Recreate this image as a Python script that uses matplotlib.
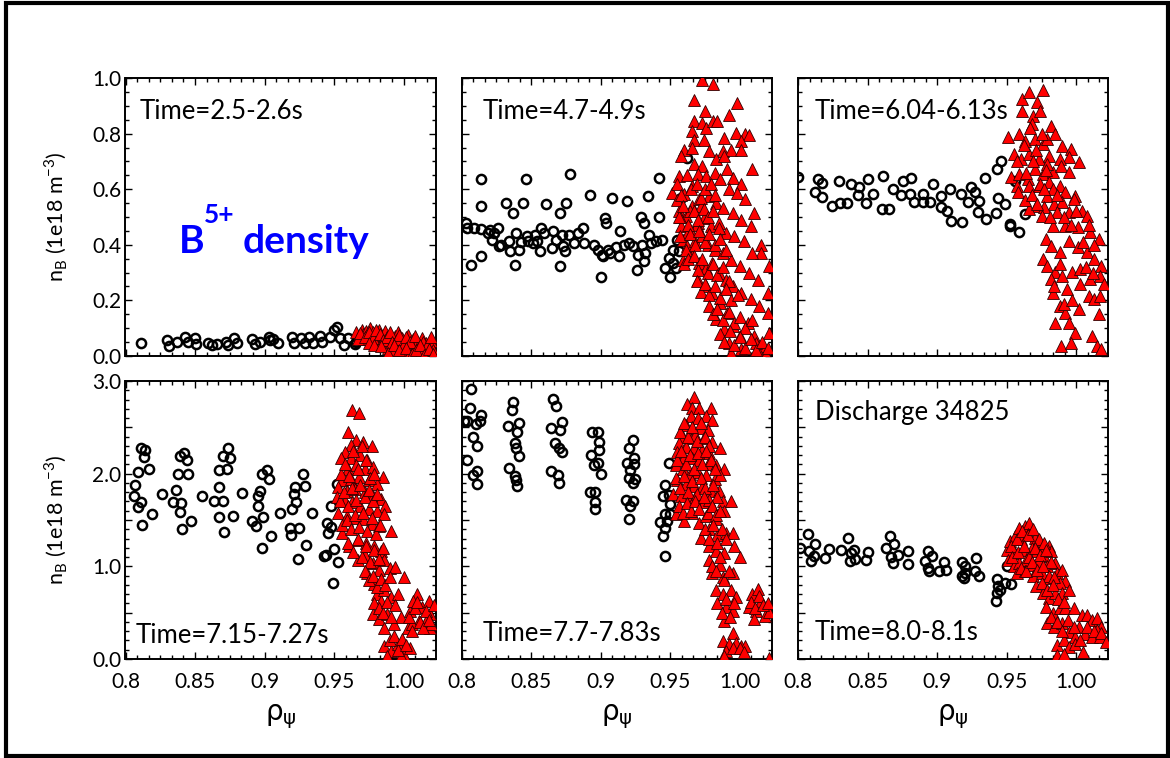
import matplotlib
matplotlib.use("Agg")
import matplotlib.pyplot as plt
from matplotlib.patches import Rectangle
from matplotlib.ticker import FixedLocator, AutoMinorLocator

plt.rcParams['font.family'] = ['Lato', 'DejaVu Sans']
plt.rcParams['mathtext.fontset'] = 'dejavusans'

# ---- data (x = rho_psi, y = n_B in 1e18 m^-3) ----
# panel 1: Time=2.5-2.6s
p1_circ_x = [0.811, 0.830, 0.831, 0.837, 0.843, 0.845, 0.850, 0.851, 0.859, 0.862, 0.866, 0.872,
             0.874, 0.878, 0.880, 0.891, 0.893, 0.897, 0.903, 0.904, 0.906, 0.910, 0.920, 0.921,
             0.926, 0.929, 0.932, 0.935, 0.940, 0.941, 0.947, 0.950, 0.952, 0.954, 0.957, 0.960,
             0.965, 0.966, 0.970]
p1_circ_y = [0.048, 0.058, 0.036, 0.052, 0.067, 0.052, 0.064, 0.043, 0.048, 0.040, 0.043, 0.052,
             0.040, 0.064, 0.046, 0.060, 0.043, 0.052, 0.070, 0.058, 0.060, 0.048, 0.070, 0.048,
             0.064, 0.048, 0.070, 0.048, 0.072, 0.052, 0.067, 0.094, 0.106, 0.064, 0.040, 0.064,
             0.043, 0.052, 0.067]
p1_tri_x = [0.966, 0.968, 0.970, 0.971, 0.973, 0.974, 0.976, 0.977, 0.978, 0.979, 0.981, 0.982,
            0.983, 0.984, 0.986, 0.987, 0.988, 0.989, 0.990, 0.991, 0.993, 0.994, 0.995, 0.996,
            0.998, 0.999, 1.000, 1.001, 1.003, 1.004, 1.005, 1.007, 1.008, 1.010, 1.011, 1.013,
            1.014, 1.016, 1.017, 1.019, 1.020, 1.021,
            0.967, 0.969, 0.972, 0.975, 0.978, 0.980, 0.983, 0.985, 0.988, 0.990, 0.992, 0.995,
            0.997, 1.000, 1.002, 1.005, 1.008, 1.011, 1.014, 1.017, 1.020,
            0.975, 0.979, 0.984, 0.989, 0.993, 0.997, 1.002, 1.006, 1.009, 1.012, 1.015, 1.018,
            1.021]
p1_tri_y = [0.085, 0.070, 0.095, 0.078, 0.090, 0.062, 0.100, 0.072, 0.088, 0.055, 0.082, 0.095,
            0.060, 0.075, 0.048, 0.090, 0.068, 0.030, 0.080, 0.058, 0.020, 0.072, 0.045, 0.085,
            0.035, 0.065, 0.015, 0.055, 0.075, 0.040, 0.010, 0.060, 0.030, 0.050, 0.005, 0.065,
            0.025, 0.045, 0.010, 0.035, 0.055, 0.020,
            0.060, 0.082, 0.070, 0.085, 0.065, 0.092, 0.078, 0.058, 0.070, 0.088, 0.050, 0.062,
            0.075, 0.042, 0.068, 0.050, 0.072, 0.030, 0.052, 0.040, 0.070,
            0.045, 0.040, 0.035, 0.012, 0.038, 0.020, 0.028, 0.008, 0.022, 0.040, 0.005, 0.025,
            0.008]

# panel 2: Time=4.7-4.9s
p2_circ_x = [0.803, 0.804, 0.807, 0.809, 0.814, 0.814, 0.814, 0.814, 0.819, 0.820, 0.822, 0.823,
             0.826, 0.827, 0.828, 0.832, 0.834, 0.835, 0.837, 0.838, 0.839, 0.841, 0.843, 0.844,
             0.846, 0.847, 0.848, 0.851, 0.853, 0.854, 0.856, 0.857, 0.859, 0.861, 0.865, 0.866,
             0.868, 0.871, 0.871, 0.872, 0.873, 0.874, 0.875, 0.877, 0.878, 0.881, 0.884, 0.887,
             0.888, 0.892, 0.895, 0.898, 0.900, 0.901, 0.902, 0.903, 0.904, 0.905, 0.907, 0.908,
             0.911, 0.913, 0.914, 0.917, 0.919, 0.920, 0.923, 0.926, 0.927, 0.929, 0.930, 0.931,
             0.931, 0.932, 0.934, 0.935, 0.936, 0.940, 0.942, 0.942, 0.944, 0.946, 0.949, 0.950,
             0.952, 0.952, 0.954, 0.955, 0.956, 0.958, 0.962]
p2_circ_y = [0.479, 0.461, 0.329, 0.461, 0.539, 0.638, 0.359, 0.457, 0.443, 0.455, 0.419, 0.443,
             0.461, 0.395, 0.401, 0.551, 0.413, 0.377, 0.515, 0.329, 0.443, 0.383, 0.410, 0.551,
             0.638, 0.431, 0.413, 0.407, 0.437, 0.413, 0.377, 0.461, 0.443, 0.545, 0.389, 0.449,
             0.419, 0.323, 0.513, 0.437, 0.395, 0.377, 0.549, 0.437, 0.653, 0.407, 0.443, 0.461,
             0.407, 0.578, 0.401, 0.383, 0.285, 0.365, 0.359, 0.497, 0.477, 0.383, 0.371, 0.569,
             0.393, 0.359, 0.449, 0.401, 0.557, 0.407, 0.395, 0.311, 0.365, 0.501, 0.401, 0.477,
             0.341, 0.371, 0.575, 0.434, 0.407, 0.413, 0.641, 0.501, 0.419, 0.317, 0.353, 0.285,
             0.335, 0.383, 0.317, 0.417, 0.377, 0.569, 0.713]
p2_tri_x = [0.973, 0.981, 0.967, 0.998, 0.975, 0.992, 0.967, 0.973, 0.976, 0.981, 0.984, 0.966,
            0.967, 0.974, 0.989, 0.997, 1.004, 1.007, 1.001, 0.960, 0.958, 0.966, 0.978, 0.988,
            0.994, 1.001, 1.009, 0.956, 0.967, 0.973, 0.983, 0.989, 0.991, 0.995, 1.001, 0.951,
            0.960, 0.966, 0.970, 0.976, 0.982, 0.986, 0.992, 0.998, 1.004, 1.010, 1.015, 1.021,
            0.956, 0.961, 0.966, 0.971, 0.978, 0.983, 0.988, 0.995, 1.001, 1.008, 1.015, 0.958,
            0.964, 0.970, 0.974, 0.979, 0.985, 0.990, 0.996, 1.003, 1.009, 0.959, 0.962, 0.968,
            0.973, 0.977, 0.982, 0.988, 0.994, 1.000, 1.007, 1.013, 1.020, 0.959, 0.966, 0.971,
            0.976, 0.980, 0.985, 0.990, 0.995, 1.001, 1.008, 1.014, 1.020, 0.970, 0.976, 0.980,
            0.983, 0.986, 0.991, 0.995, 1.000, 1.006, 1.010, 1.016, 1.021, 0.994, 1.001, 1.014,
            1.019, 0.989, 0.992, 1.012, 0.955, 0.957, 0.962, 0.964, 0.969, 0.972,
            0.955, 0.958, 0.962, 0.965, 0.969, 0.972, 0.975, 0.979, 0.982,
            0.956, 0.959, 0.963, 0.967, 0.970, 0.974, 0.977, 0.981, 0.985,
            0.957, 0.961, 0.964, 0.968, 0.971, 0.975, 0.978, 0.982, 0.986, 0.990,
            0.960, 0.963, 0.967, 0.970, 0.973, 0.977, 0.981, 0.984, 0.988, 0.992,
            0.969, 0.972, 0.975, 0.978, 0.982, 0.986, 0.990, 0.994, 0.999,
            0.978, 0.981, 0.984, 0.988, 0.992, 0.996, 1.000, 1.004, 1.009,
            0.986, 0.989, 0.993, 0.996, 1.000, 1.004, 1.008, 1.012, 1.016, 1.020]
p2_tri_y = [0.994, 0.980, 0.922, 0.910, 0.880, 0.868, 0.844, 0.838, 0.820, 0.844, 0.844, 0.808,
            0.778, 0.778, 0.784, 0.802, 0.800, 0.796, 0.772, 0.742, 0.719, 0.749, 0.737, 0.737,
            0.742, 0.742, 0.671, 0.647, 0.689, 0.683, 0.707, 0.719, 0.671, 0.641, 0.620, 0.587,
            0.581, 0.611, 0.653, 0.647, 0.659, 0.635, 0.599, 0.587, 0.563, 0.515, 0.401, 0.323,
            0.521, 0.503, 0.539, 0.563, 0.575, 0.551, 0.533, 0.515, 0.491, 0.467, 0.371, 0.467,
            0.455, 0.479, 0.497, 0.467, 0.479, 0.443, 0.431, 0.413, 0.371, 0.419, 0.395, 0.413,
            0.431, 0.401, 0.383, 0.371, 0.347, 0.323, 0.299, 0.275, 0.228, 0.347, 0.359, 0.335,
            0.317, 0.335, 0.299, 0.275, 0.251, 0.228, 0.204, 0.180, 0.156, 0.275, 0.251, 0.228,
            0.132, 0.192, 0.156, 0.108, 0.072, 0.120, 0.072, 0.036, 0.084, 0.012, 0.024, 0.012,
            0.006, 0.096, 0.048, 0.048, 0.560, 0.500, 0.440, 0.520, 0.470, 0.540,
            0.620, 0.580, 0.650, 0.600, 0.620, 0.570, 0.600, 0.620, 0.580,
            0.500, 0.540, 0.470, 0.520, 0.490, 0.530, 0.500, 0.520, 0.460,
            0.430, 0.380, 0.440, 0.400, 0.450, 0.410, 0.440, 0.400, 0.420, 0.380,
            0.330, 0.350, 0.360, 0.310, 0.350, 0.300, 0.330, 0.290, 0.320, 0.270,
            0.270, 0.230, 0.260, 0.220, 0.250, 0.210, 0.240, 0.200, 0.220,
            0.180, 0.150, 0.170, 0.130, 0.160, 0.120, 0.140, 0.100, 0.130,
            0.080, 0.050, 0.090, 0.040, 0.070, 0.030, 0.060, 0.020, 0.050, 0.030]

# panel 3: Time=6.04-6.13s
p3_circ_x = [0.800, 0.812, 0.814, 0.817, 0.817, 0.824, 0.829, 0.830, 0.835, 0.838, 0.843, 0.844,
             0.849, 0.850, 0.854, 0.860, 0.861, 0.865, 0.868, 0.874, 0.875, 0.880, 0.881, 0.883,
             0.890, 0.890, 0.895, 0.897, 0.903, 0.903, 0.907, 0.909, 0.910, 0.917, 0.918, 0.922,
             0.924, 0.927, 0.929, 0.930, 0.934, 0.935, 0.942, 0.943, 0.944, 0.946, 0.949, 0.952,
             0.952, 0.956, 0.959, 0.963]
p3_circ_y = [0.643, 0.589, 0.637, 0.623, 0.571, 0.541, 0.631, 0.550, 0.550, 0.619, 0.579, 0.607,
             0.550, 0.637, 0.583, 0.529, 0.649, 0.529, 0.599, 0.579, 0.631, 0.583, 0.641, 0.555,
             0.583, 0.555, 0.555, 0.619, 0.577, 0.535, 0.523, 0.601, 0.487, 0.583, 0.481, 0.555,
             0.607, 0.589, 0.517, 0.559, 0.639, 0.493, 0.514, 0.673, 0.567, 0.703, 0.547, 0.475,
             0.469, 0.631, 0.447, 0.511]
p3_tri_x = [0.961, 0.966, 0.972, 0.976, 0.961, 0.969, 0.974, 0.982, 0.951, 0.959, 0.963, 0.968,
            0.970, 0.976, 0.979, 0.985, 0.990, 0.996, 0.995, 1.002, 0.955, 0.960, 0.966, 0.973,
            0.980, 0.988, 0.953, 0.959, 0.965, 0.970, 0.976, 0.983, 0.989, 0.995, 0.957, 0.966,
            0.973, 0.980, 0.988, 0.992, 0.999, 0.979, 0.984, 0.990, 0.998, 0.971, 0.977, 0.966,
            0.975, 0.986, 0.995, 1.004, 1.008, 0.983, 0.992, 1.001, 1.010, 1.016, 0.978, 0.982,
            0.988, 0.995, 1.001, 1.008, 1.013, 1.018, 0.976, 0.979, 0.985, 0.990, 0.997, 1.003,
            1.010, 1.017, 0.982, 0.983, 0.988, 0.992, 0.995, 0.999, 1.002, 1.009, 1.013, 1.017,
            0.989, 0.996, 1.011, 1.015, 1.018, 0.985, 0.991,
            0.957, 0.962, 0.967, 0.971, 0.975, 0.979, 0.964, 0.969, 0.974, 0.978, 0.983, 0.958,
            0.963, 0.968, 0.972, 0.977, 0.981, 0.986, 0.991, 0.996, 1.000, 1.005, 1.009, 1.013,
            0.984, 0.988, 0.993, 0.997, 1.003, 1.007, 1.012, 1.016, 1.020]
p3_tri_y = [0.925, 0.950, 0.913, 0.956, 0.883, 0.865, 0.883, 0.829, 0.787, 0.799, 0.775, 0.835,
            0.781, 0.763, 0.781, 0.799, 0.755, 0.745, 0.715, 0.697, 0.727, 0.709, 0.727, 0.709,
            0.721, 0.709, 0.643, 0.655, 0.637, 0.673, 0.655, 0.661, 0.685, 0.661, 0.613, 0.613,
            0.613, 0.625, 0.613, 0.589, 0.577, 0.577, 0.547, 0.553, 0.565, 0.541, 0.535, 0.529,
            0.505, 0.517, 0.517, 0.523, 0.505, 0.469, 0.469, 0.463, 0.445, 0.421, 0.421, 0.397,
            0.373, 0.415, 0.391, 0.373, 0.349, 0.325, 0.349, 0.325, 0.301, 0.288, 0.301, 0.313,
            0.276, 0.288, 0.276, 0.228, 0.180, 0.156, 0.120, 0.084, 0.168, 0.216, 0.204, 0.216,
            0.036, 0.048, 0.072, 0.036, 0.024, 0.120, 0.186,
            0.700, 0.760, 0.820, 0.740, 0.800, 0.690, 0.660, 0.700, 0.620, 0.670, 0.600, 0.590,
            0.560, 0.580, 0.545, 0.600, 0.500, 0.580, 0.500, 0.470, 0.520, 0.410, 0.470, 0.400,
            0.250, 0.330, 0.240, 0.200, 0.260, 0.320, 0.300, 0.150, 0.260]

# panel 4: Time=7.15-7.27s
p4_circ_x = [0.806, 0.807, 0.809, 0.809, 0.811, 0.812, 0.811, 0.814, 0.813, 0.817, 0.819, 0.826,
             0.836, 0.834, 0.838, 0.839, 0.840, 0.839, 0.842, 0.844, 0.845, 0.841, 0.847, 0.855,
             0.864, 0.867, 0.867, 0.867, 0.870, 0.871, 0.870, 0.874, 0.875, 0.873, 0.877, 0.884,
             0.891, 0.895, 0.895, 0.894, 0.897, 0.898, 0.899, 0.898, 0.902, 0.903, 0.905, 0.911,
             0.918, 0.919, 0.920, 0.921, 0.922, 0.923, 0.924, 0.925, 0.928, 0.929, 0.930, 0.934,
             0.943, 0.944, 0.945, 0.946, 0.948, 0.948, 0.949, 0.950, 0.952, 0.953]
p4_circ_y = [1.763, 1.880, 2.018, 1.635, 1.690, 1.442, 2.281, 2.255, 2.182, 2.047, 1.562, 1.781,
             1.828, 1.690, 2.000, 1.588, 1.682, 2.193, 2.219, 2.146, 2.000, 1.398, 1.489, 1.755,
             1.708, 2.036, 1.854, 1.536, 1.708, 1.369, 2.193, 2.281, 2.164, 2.055, 1.544, 1.792,
             1.489, 1.653, 1.763, 1.434, 1.818, 2.000, 1.536, 1.197, 2.036, 1.945, 1.325, 1.580,
             1.416, 1.343, 1.617, 1.781, 1.861, 1.697, 1.077, 1.416, 2.000, 1.872, 1.234, 1.573,
             1.113, 1.124, 1.471, 1.361, 1.653, 1.427, 0.821, 1.186, 1.891, 1.051]
p4_tri_x = [0.963, 0.968, 0.960, 0.966, 0.971, 0.977, 0.962, 0.958, 0.955, 0.962, 0.969, 0.974,
            0.960, 0.966, 0.972, 0.978, 0.985, 0.956, 0.962, 0.968, 0.975, 0.981, 0.953, 0.959,
            0.965, 0.972, 0.978, 0.984, 0.987, 0.952, 0.958, 0.963, 0.969, 0.975, 0.981, 0.986,
            0.953, 0.959, 0.965, 0.971, 0.977, 0.982, 0.991, 0.956, 0.961, 0.967, 0.973, 0.979,
            0.984, 0.967, 0.972, 0.978, 0.982, 0.986, 0.990, 0.994, 1.000, 0.974, 0.979, 0.981,
            0.984, 0.986, 0.991, 0.996, 0.978, 0.982, 0.986, 0.988, 0.993, 0.998, 1.003, 1.005,
            1.010, 1.007, 1.013, 1.018, 1.019, 1.016, 1.019, 1.011, 1.006, 0.986, 0.991, 0.996,
            1.000, 1.005, 0.988, 0.998,
            0.955, 0.958, 0.961, 0.964, 0.967, 0.970, 0.973, 0.976, 0.979,
            0.954, 0.957, 0.960, 0.963, 0.966, 0.969, 0.972, 0.975, 0.978, 0.981,
            0.956, 0.959, 0.962, 0.965, 0.968, 0.971, 0.974, 0.977, 0.980, 0.983,
            0.960, 0.964, 0.967, 0.970, 0.973, 0.976, 0.979, 0.982, 0.985,
            0.972, 0.975, 0.978, 0.981, 0.984, 0.987, 0.990,
            0.979, 0.982, 0.985, 0.988, 0.991, 0.994,
            0.990, 0.993, 0.996, 0.999, 1.002,
            1.004, 1.008, 1.012, 1.016, 1.020, 1.006, 1.010, 1.014, 1.018, 1.022]
p4_tri_y = [2.682, 2.657, 2.449, 2.365, 2.347, 2.303, 2.310, 2.237, 2.164, 2.164, 2.201, 2.146,
            2.055, 2.091, 2.055, 2.073, 1.964, 1.927, 1.945, 1.964, 1.927, 1.891, 1.854, 1.818,
            1.836, 1.799, 1.763, 1.726, 1.653, 1.745, 1.708, 1.690, 1.653, 1.617, 1.599, 1.562,
            1.580, 1.544, 1.526, 1.507, 1.453, 1.434, 1.380, 1.361, 1.215, 1.288, 1.252, 1.215,
            1.161, 1.069, 1.124, 1.033, 0.960, 1.069, 0.978, 0.996, 0.887, 0.923, 0.814, 0.704,
            0.631, 0.741, 0.668, 0.704, 0.485, 0.431, 0.339, 0.485, 0.376, 0.449, 0.339, 0.522,
            0.704, 0.631, 0.558, 0.631, 0.485, 0.412, 0.339, 0.412, 0.376, 0.139, 0.084, 0.157,
            0.047, 0.120, 0.029, 0.029,
            2.00, 2.10, 1.98, 2.25, 2.05, 2.30, 2.15, 1.95, 2.00,
            1.70, 1.80, 1.65, 1.85, 1.72, 1.88, 1.75, 1.82, 1.70, 1.78,
            1.45, 1.50, 1.40, 1.55, 1.42, 1.58, 1.38, 1.52, 1.35, 1.45,
            1.25, 1.15, 1.30, 1.10, 1.22, 1.05, 1.18, 1.08, 1.20,
            0.95, 0.85, 0.90, 0.78, 0.86, 0.80, 0.88,
            0.60, 0.55, 0.50, 0.62, 0.45, 0.58,
            0.20, 0.25, 0.10, 0.22, 0.15,
            0.45, 0.55, 0.40, 0.52, 0.38, 0.30, 0.62, 0.33, 0.42, 0.58]

# panel 5: Time=7.7-7.83s
p5_circ_x = [0.807, 0.806, 0.802, 0.804, 0.810, 0.814, 0.813, 0.808, 0.811, 0.804, 0.808, 0.811,
             0.811, 0.837, 0.836, 0.833, 0.841, 0.840, 0.838, 0.839, 0.841, 0.834, 0.838, 0.839,
             0.840, 0.866, 0.868, 0.864, 0.871, 0.872, 0.867, 0.870, 0.872, 0.864, 0.869, 0.870,
             0.894, 0.898, 0.899, 0.899, 0.893, 0.895, 0.898, 0.900, 0.892, 0.896, 0.896, 0.896,
             0.923, 0.920, 0.924, 0.919, 0.924, 0.921, 0.920, 0.925, 0.923, 0.918, 0.923, 0.921,
             0.920, 0.949, 0.946, 0.949, 0.945, 0.950, 0.946, 0.950, 0.943, 0.948, 0.946, 0.945,
             0.946]
p5_circ_y = [2.912, 2.712, 2.573, 2.573, 2.536, 2.631, 2.573, 2.391, 2.303, 2.146, 1.989, 2.026,
             1.891, 2.777, 2.682, 2.511, 2.547, 2.449, 2.328, 2.281, 2.193, 2.062, 1.974, 1.927,
             1.865, 2.803, 2.730, 2.493, 2.474, 2.558, 2.328, 2.274, 2.237, 2.026, 1.989, 1.901,
             2.449, 2.449, 2.347, 2.255, 2.201, 2.091, 2.120, 2.000, 1.807, 1.807, 1.690, 1.624,
             2.365, 2.274, 2.164, 2.120, 2.099, 2.036, 1.953, 1.938, 1.901, 1.719, 1.708, 1.646,
             1.515, 2.120, 1.880, 1.770, 1.763, 1.672, 1.562, 1.562, 1.478, 1.489, 1.416, 1.325,
             1.113]
p5_tri_x = [0.967, 0.962, 0.966, 0.971, 0.979, 0.965, 0.970, 0.976, 0.980, 0.961, 0.966, 0.972,
            0.977, 0.959, 0.964, 0.968, 0.974, 0.980, 0.986, 0.956, 0.961, 0.967, 0.973, 0.978,
            0.955, 0.960, 0.966, 0.971, 0.977, 0.983, 0.989, 0.954, 0.959, 0.964, 0.970, 0.976,
            0.982, 0.986, 0.955, 0.961, 0.967, 0.973, 0.979, 0.985, 0.952, 0.958, 0.964, 0.968,
            0.974, 0.980, 0.988, 0.994, 0.954, 0.960, 0.966, 0.971, 0.976, 0.983, 0.989, 0.972,
            0.978, 0.984, 0.990, 0.995, 0.978, 0.983, 0.989, 0.996, 1.000, 0.978, 0.980, 0.986,
            0.988, 0.995, 0.983, 0.988, 0.994, 0.997, 0.990, 0.995, 0.989, 0.995, 0.988, 0.992,
            0.997, 1.001, 1.004, 0.990, 0.995, 0.989, 1.009, 1.013, 1.007, 1.012, 1.015, 1.018,
            1.021, 1.010, 1.021,
            0.957, 0.960, 0.963, 0.966, 0.969, 0.972, 0.975, 0.978,
            0.955, 0.958, 0.961, 0.964, 0.967, 0.970, 0.973, 0.976, 0.979, 0.982,
            0.954, 0.957, 0.960, 0.963, 0.966, 0.969, 0.972, 0.975, 0.978, 0.981, 0.984,
            0.956, 0.959, 0.962, 0.965, 0.968, 0.971, 0.974, 0.977, 0.980, 0.983, 0.986,
            0.975, 0.978, 0.981, 0.984, 0.987, 0.990,
            0.980, 0.983, 0.986, 0.989, 0.992,
            0.984, 0.987, 0.990, 0.993, 0.996, 1.000, 1.003,
            1.008, 1.011, 1.014, 1.017, 1.020]
p5_tri_y = [2.828, 2.748, 2.712, 2.712, 2.712, 2.620, 2.602, 2.620, 2.584, 2.529, 2.493, 2.493,
            2.474, 2.401, 2.383, 2.420, 2.383, 2.347, 2.274, 2.328, 2.292, 2.274, 2.255, 2.219,
            2.237, 2.182, 2.164, 2.146, 2.109, 2.091, 2.055, 2.091, 2.055, 2.000, 2.018, 1.982,
            1.945, 1.982, 1.927, 1.891, 1.872, 1.854, 1.818, 1.818, 1.781, 1.763, 1.726, 1.745,
            1.690, 1.653, 1.708, 1.708, 1.562, 1.489, 1.580, 1.471, 1.544, 1.507, 1.599, 1.307,
            1.398, 1.343, 1.361, 1.361, 1.215, 1.161, 1.142, 1.215, 1.106, 1.069, 0.923, 1.015,
            0.887, 0.923, 0.741, 0.704, 0.741, 0.668, 0.558, 0.522, 0.412, 0.285, 0.193, 0.157,
            0.175, 0.139, 0.139, 0.084, 0.120, 0.029, 0.704, 0.759, 0.558, 0.522, 0.631, 0.467,
            0.504, 0.431, 0.010,
            2.45, 2.55, 2.40, 2.50, 2.35, 2.55, 2.40, 2.30,
            2.15, 2.25, 2.10, 2.20, 2.05, 2.22, 2.10, 2.25, 2.15, 2.05,
            1.95, 1.85, 1.98, 1.80, 1.92, 1.78, 1.95, 1.85, 1.72, 1.88, 1.75,
            1.65, 1.58, 1.68, 1.60, 1.70, 1.62, 1.75, 1.58, 1.65, 1.55, 1.60,
            1.40, 1.30, 1.45, 1.25, 1.40, 1.30,
            1.00, 0.95, 1.10, 0.85, 0.95,
            0.60, 0.50, 0.65, 0.45, 0.60, 0.12, 0.08,
            0.62, 0.55, 0.68, 0.58, 0.60]

# panel 6: Time=8.0-8.1s
p6_circ_x = [0.801, 0.807, 0.809, 0.808, 0.811, 0.812, 0.819, 0.822, 0.831, 0.836, 0.837, 0.838,
             0.840, 0.841, 0.849, 0.850, 0.863, 0.866, 0.867, 0.868, 0.869, 0.872, 0.879, 0.879,
             0.893, 0.891, 0.893, 0.894, 0.896, 0.901, 0.905, 0.906, 0.918, 0.918, 0.920, 0.919,
             0.920, 0.927, 0.928, 0.930, 0.943, 0.944, 0.943, 0.942, 0.945, 0.949, 0.953, 0.950]
p6_circ_y = [1.199, 1.344, 1.054, 1.163, 1.109, 1.236, 1.091, 1.188, 1.181, 1.308, 1.054, 1.145,
             1.174, 1.080, 1.065, 1.152, 1.199, 1.326, 1.101, 1.036, 1.236, 1.127, 1.163, 1.029,
             1.163, 1.054, 0.982, 0.946, 1.109, 0.946, 1.043, 0.964, 1.043, 0.891, 1.007, 0.873,
             0.928, 0.946, 1.091, 0.899, 0.862, 0.783, 0.717, 0.630, 0.746, 0.819, 0.812, 1.000]
p6_tri_x = [0.950, 0.952, 0.956, 0.959, 0.963, 0.966, 0.960, 0.965, 0.970, 0.973, 0.976, 0.980,
            0.951, 0.956, 0.962, 0.968, 0.972, 0.977, 0.982, 0.955, 0.959, 0.964, 0.969, 0.973,
            0.979, 0.985, 0.957, 0.963, 0.969, 0.975, 0.980, 0.986, 0.990, 0.992, 0.988, 0.971,
            0.976, 0.980, 0.985, 0.990, 0.995, 0.978, 0.983, 0.988, 0.992, 0.998, 1.004, 1.008,
            1.011, 1.015, 1.018, 1.015, 0.979, 0.984, 0.990, 0.995, 0.999, 1.002, 1.006, 1.011,
            1.017, 0.986, 0.991, 0.995, 0.999, 1.005, 0.986, 0.991,
            0.953, 0.957, 0.961, 0.965, 0.969, 0.973, 0.977,
            0.954, 0.958, 0.962, 0.966, 0.970, 0.974, 0.978, 0.982,
            0.960, 0.964, 0.968, 0.972, 0.976, 0.980, 0.984,
            0.975, 0.979, 0.983, 0.987, 0.991,
            0.982, 0.986, 0.990, 0.994, 0.998, 1.003, 1.008, 1.013, 1.018, 1.021]
p6_tri_y = [1.181, 1.272, 1.326, 1.417, 1.435, 1.471, 1.290, 1.344, 1.308, 1.272, 1.217, 1.217,
            1.072, 1.145, 1.181, 1.199, 1.163, 1.109, 1.163, 1.000, 1.036, 1.072, 1.018, 1.054,
            1.000, 1.036, 0.928, 0.946, 0.891, 0.928, 0.873, 0.928, 0.964, 0.837, 0.819, 0.783,
            0.710, 0.656, 0.710, 0.710, 0.746, 0.565, 0.493, 0.547, 0.547, 0.547, 0.475, 0.475,
            0.420, 0.438, 0.348, 0.312, 0.384, 0.348, 0.384, 0.293, 0.239, 0.348, 0.275, 0.239,
            0.239, 0.149, 0.203, 0.130, 0.167, 0.076, 0.040, 0.058,
            1.22, 1.30, 1.38, 1.34, 1.40, 1.30, 1.25,
            1.10, 1.15, 1.22, 1.10, 1.20, 1.12, 1.18, 1.05,
            0.98, 0.95, 1.05, 0.96, 1.00, 0.90, 0.88,
            0.82, 0.75, 0.80, 0.65, 0.62,
            0.45, 0.40, 0.30, 0.42, 0.35, 0.20, 0.35, 0.30, 0.28, 0.18]

circ_x = [p1_circ_x, p2_circ_x, p3_circ_x, p4_circ_x, p5_circ_x, p6_circ_x]
circ_y = [p1_circ_y, p2_circ_y, p3_circ_y, p4_circ_y, p5_circ_y, p6_circ_y]
tri_x = [p1_tri_x, p2_tri_x, p3_tri_x, p4_tri_x, p5_tri_x, p6_tri_x]
tri_y = [p1_tri_y, p2_tri_y, p3_tri_y, p4_tri_y, p5_tri_y, p6_tri_y]

time_labels = ["Time=2.5-2.6s", "Time=4.7-4.9s", "Time=6.04-6.13s",
               "Time=7.15-7.27s", "Time=7.7-7.83s", "Time=8.0-8.1s"]

x_ticks = [0.8, 0.85, 0.9, 0.95, 1.0]
x_ticklabels = ["0.8", "0.85", "0.9", "0.95", "1.00"]
y_ticks_top = [0.0, 0.2, 0.4, 0.6, 0.8, 1.0]
y_ticklabels_top = ["0.0", "0.2", "0.4", "0.6", "0.8", "1.0"]
y_ticks_bot = [0.0, 0.5, 1.0, 1.5, 2.0, 2.5, 3.0]
y_ticklabels_bot = ["0.0", "", "1.0", "", "2.0", "", "3.0"]

W, H = 1170, 758
fig = plt.figure(figsize=(W / 100, H / 100), dpi=100)

lefts = [125.5, 461.7, 798.3]
tops = [78, 381]
aw, ah = 310, 278

# time label positions (axes fraction, baseline)
txt_pos = [(0.047, 0.853), (0.068, 0.853), (0.054, 0.853),
           (0.034, 0.058), (0.068, 0.065), (0.054, 0.068)]

axes = []
for i in range(6):
    r, c = divmod(i, 3)
    ax = fig.add_axes([lefts[c] / W, 1 - (tops[r] + ah) / H, aw / W, ah / H])
    axes.append(ax)

    ax.plot(circ_x[i], circ_y[i], 'o', ms=6.6, mfc='none', mec='black', mew=1.8, zorder=2)
    ax.plot(tri_x[i], tri_y[i], '^', ms=8.2, mfc='#ff0000', mec='#300000', mew=0.6, zorder=3)

    ax.set_xlim(0.8, 1.023)
    ax.xaxis.set_major_locator(FixedLocator(x_ticks))
    ax.xaxis.set_minor_locator(AutoMinorLocator(6))
    if r == 0:
        ax.set_ylim(0, 1.0)
        ax.yaxis.set_major_locator(FixedLocator(y_ticks_top))
        ax.yaxis.set_minor_locator(AutoMinorLocator(4))
        ax.set_yticklabels(y_ticklabels_top if c == 0 else [])
        ax.set_xticklabels([])
    else:
        ax.set_ylim(0, 3.0)
        ax.yaxis.set_major_locator(FixedLocator(y_ticks_bot))
        ax.yaxis.set_minor_locator(AutoMinorLocator(5))
        ax.set_yticklabels(y_ticklabels_bot if c == 0 else [])
        ax.set_xticklabels(x_ticklabels)
        ax.set_xlabel(r'$\mathrm{\rho}_{\mathrm{\psi}}$', fontsize=20, labelpad=8)

    ax.tick_params(which='both', direction='in', top=True, right=True, width=1,
                   labelsize=15)
    ax.tick_params(axis='y', pad=3)
    ax.tick_params(axis='x', pad=9)
    ax.tick_params(which='major', length=5)
    ax.tick_params(which='minor', length=3)
    for s in ax.spines.values():
        s.set_linewidth(1.4)

    tx, ty = txt_pos[i]
    ax.text(tx, ty, time_labels[i], transform=ax.transAxes, fontsize=18.5,
            ha='left', va='baseline')

axes[5].text(0.054, 0.86, "Discharge 34825", transform=axes[5].transAxes,
             fontsize=18.5, ha='left', va='baseline')

# B5+ density annotation
axes[0].text(0.173, 0.372, "B", transform=axes[0].transAxes, fontsize=28,
             fontweight='bold', color='#0000ff', ha='left', va='baseline')
axes[0].text(0.253, 0.478, "5+", transform=axes[0].transAxes, fontsize=19,
             fontweight='bold', color='#0000ff', ha='left', va='baseline')
axes[0].text(0.378, 0.372, "density", transform=axes[0].transAxes, fontsize=28,
             fontweight='bold', color='#0000ff', ha='left', va='baseline')

ylab = r'n$_\mathregular{B}$ (1e18 m$^\mathregular{-3}$)'
fig.text(56 / W, 1 - 217 / H, ylab, rotation=90, ha='center', va='center', fontsize=15.5)
fig.text(56 / W, 1 - 520 / H, ylab, rotation=90, ha='center', va='center', fontsize=15.5)

# outer frame
fig.patches.append(Rectangle((5.5 / W, 2.5 / H), 1162 / W, 753 / H, transform=fig.transFigure,
                             fill=False, edgecolor='black', linewidth=3))

fig.savefig("out.png", dpi=100)
